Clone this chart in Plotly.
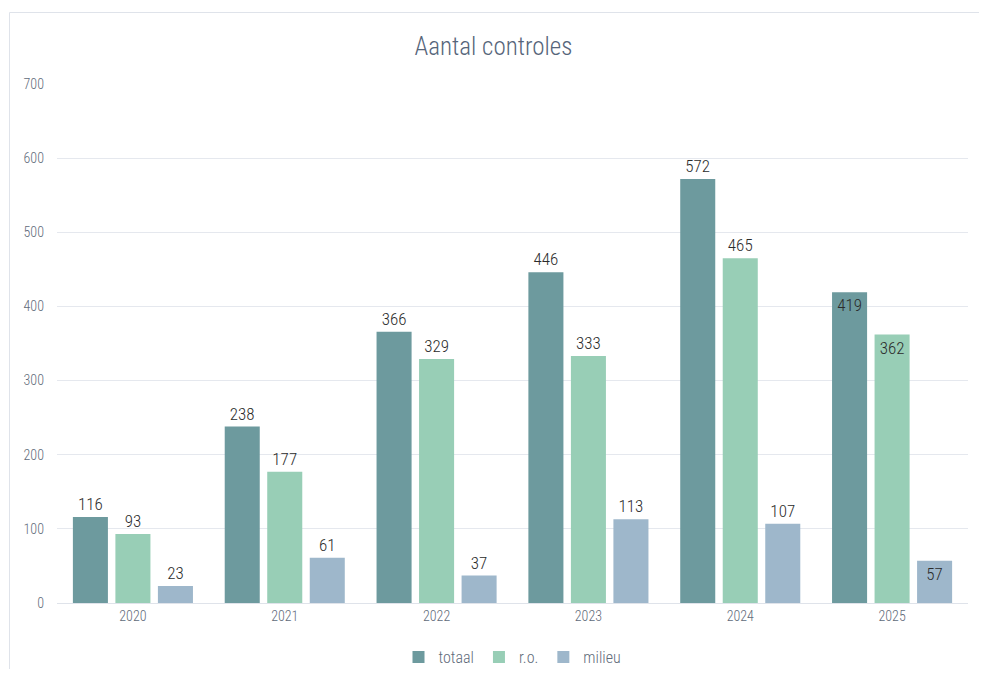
import plotly.graph_objects as go

years = ["2020", "2021", "2022", "2023", "2024", "2025"]
totaal = [116, 238, 366, 446, 572, 419]
ro = [93, 177, 329, 333, 465, 362]
milieu = [23, 61, 37, 113, 107, 57]

series = [("totaal", totaal, "#6D9A9E"), ("r.o.", ro, "#98CEB6"), ("milieu", milieu, "#9EB7CB")]

FONT = "Roboto Condensed, Liberation Sans Narrow, DejaVu Sans Condensed, Roboto, sans-serif"
LBL = dict(family=FONT, size=17, color="#2b2b2b", weight=300)

fig = go.Figure()
for name, vals, col in series:
    pos = ["outside"] * (len(vals) - 1) + ["inside"]
    fig.add_trace(go.Bar(
        x=years, y=vals, name=name, marker=dict(color=col, line=dict(width=0)),
        text=[str(v) for v in vals], textposition=pos, insidetextanchor="end",
        textfont=LBL, outsidetextfont=LBL, insidetextfont=LBL,
        cliponaxis=False,
    ))

OFF = 8  # page body margin
W, H = 987 - 2 * OFF, 677 - 2 * OFF
L, R, T, B = 57 - OFF, 987 - 968 - OFF, 84 - OFF, 677 - 603 - OFF
pw, ph = W - L - R, H - T - B

TICK = dict(family=FONT, size=14, color="#5f6b7a", weight=300)

fig.update_layout(
    width=W, height=H,
    margin=dict(l=L, r=R, t=T, b=B, autoexpand=False),
    paper_bgcolor="white", plot_bgcolor="white",
    font=dict(family=FONT, color="#5f6b7a"),
    title=dict(text="Aantal controles", x=0.5, xanchor="center", y=1 - (46 - OFF) / H, yanchor="middle",
               font=dict(family=FONT, size=25, color="#56657a", weight=300)),
    barmode="group", bargap=0.16, bargroupgap=0.176,
    showlegend=True,
    legend=dict(orientation="h", x=0.5, xanchor="center", y=-(657 - 603) / ph, yanchor="middle",
                font=dict(family=FONT, size=16, color="#5f6b7a", weight=300), itemwidth=30,
                traceorder="normal"),
    xaxis=dict(showgrid=False, showline=True, linecolor="#dfe3ea", linewidth=1, ticks="",
               tickfont=TICK),
    yaxis=dict(range=[0, 700], dtick=100, showgrid=True, gridcolor="#e5e8ee", gridwidth=1,
               zeroline=False, ticks="", tickfont=TICK, ticklabelstandoff=12),
)

fig.add_shape(type="rect", xref="paper", yref="paper",
              x0=(9.5 - OFF - L) / pw, x1=(W + 20 - L) / pw,
              y0=-(B + 20) / ph, y1=1 + (T - (12.5 - OFF)) / ph,
              line=dict(color="#dfe3ea", width=1), fillcolor="rgba(0,0,0,0)", layer="below")

fig.write_html("out.html")
